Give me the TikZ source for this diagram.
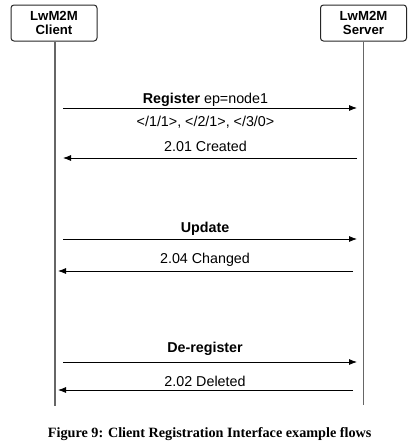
\documentclass[tikz,border=0pt]{standalone}
\usepackage{fontspec}
\setmainfont{Liberation Sans}
\newfontfamily\capfont{Liberation Serif}
\usetikzlibrary{arrows.meta, positioning}

\begin{document}
\begin{tikzpicture}[x=1pt, y=-1pt,
    actor/.style={draw=black!85, line width=1pt, rounded corners=3pt, minimum width=86pt, minimum height=36pt, inner sep=0pt, align=center, font=\bfseries\fontsize{13.2}{13.5}\selectfont},
    lifeline/.style={draw=black!60, line width=1.5pt},
    msg/.style={-{Latex[length=8pt, width=6pt]}, line width=0.8pt},
    lbl/.style={anchor=base, inner sep=0pt, font=\fontsize{14.3}{16}\selectfont}
]
    \useasboundingbox (0,0) rectangle (418,447);

    % participants
    \node[actor] (client) at (54,23) {LwM2M\\Client};
    \node[actor] (server) at (363.5,23) {LwM2M\\Server};

    \coordinate (clientend) at (55,406);
    \coordinate (serverend) at (363.5,405);
    \draw[lifeline] (client.south -| clientend) -- (clientend);
    \draw[lifeline] (server.south -| serverend) -- (serverend);

    % registration
    \coordinate (reg1) at (63,108);    \coordinate (reg2) at (357,108);
    \draw[msg] (reg1) -- (reg2);
    \node[lbl] (reglbl) at (205.5,103) {\textbf{Register} ep=node1};
    \node[lbl] (reglinks) at (205.5,126) {</1/1>, </2/1>, </3/0>};

    \coordinate (cre1) at (357,158);   \coordinate (cre2) at (63,158);
    \draw[msg] (cre1) -- (cre2);
    \node[lbl] (crelbl) at (205.5,151) {2.01 Created};

    % update
    \coordinate (upd1) at (63,239);    \coordinate (upd2) at (357,239);
    \draw[msg] (upd1) -- (upd2);
    \node[lbl] (updlbl) at (205,232) {\textbf{Update}};

    \coordinate (chg1) at (353,271);   \coordinate (chg2) at (58,271);
    \draw[msg] (chg1) -- (chg2);
    \node[lbl] (chglbl) at (205,263) {2.04 Changed};

    % de-registration
    \coordinate (dereg1) at (63,362);  \coordinate (dereg2) at (357,362);
    \draw[msg] (dereg1) -- (dereg2);
    \node[lbl] (dereglbl) at (205,352) {\textbf{De-register}};

    \coordinate (del1) at (353,390);   \coordinate (del2) at (58,390);
    \draw[msg] (del1) -- (del2);
    \node[lbl] (dellbl) at (205,386) {2.02 Deleted};

    \node[anchor=base, inner sep=0pt, font=\capfont\bfseries\fontsize{14.2}{16}\selectfont] (caption) at (209.7,437) {Figure 9: Client Registration Interface example flows};
\end{tikzpicture}
\end{document}
